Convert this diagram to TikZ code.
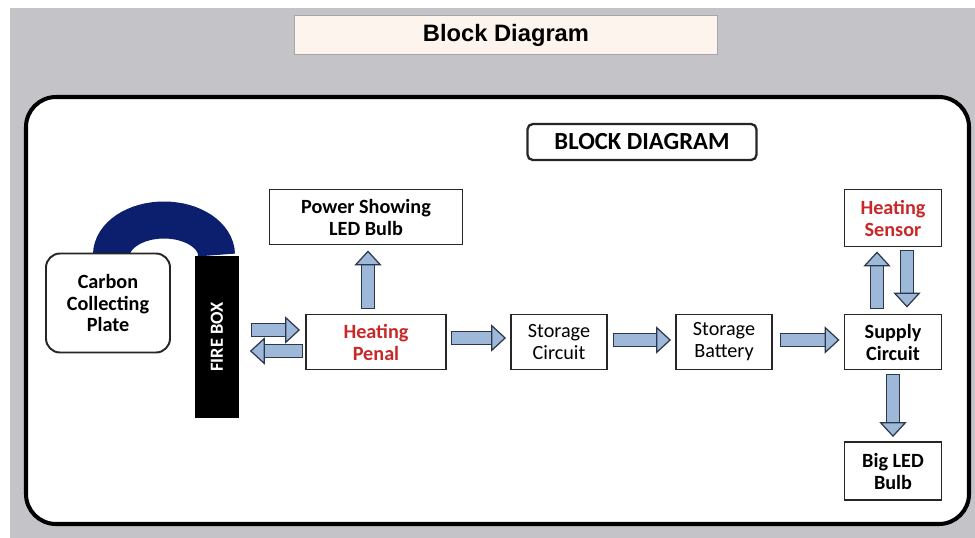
\documentclass[tikz,border=0pt]{standalone}
\usepackage{fontspec}
\setmainfont{Carlito}
\newfontfamily\headfont{Liberation Sans}
\usetikzlibrary{arrows.meta,calc}
\definecolor{bggray}{RGB}{196,196,200}
\definecolor{cream}{RGB}{253,245,237}
\definecolor{flowblue}{RGB}{157,184,217}
\definecolor{flowedge}{RGB}{45,55,75}
\definecolor{pipe}{RGB}{12,30,110}
\definecolor{heatred}{RGB}{200,40,40}
\begin{document}
\begin{tikzpicture}[x=0.02cm,y=-0.02cm,
  box/.style={draw=black!85,line width=1.1pt,fill=white,align=center,inner sep=0pt,
    font=\bfseries\fontsize{11.5}{12.5}\selectfont},
  plainbox/.style={box,font=\fontsize{11.5}{12.5}\selectfont},
  flow/.style={draw=flowblue,line width=7pt,
    -{Triangle[length=8.5pt,width=15.5pt,fill=flowblue,color=flowedge,line width=0.7pt]},
    preaction={draw=flowedge,line width=8.4pt,arrows=-,shorten >=7.5pt,shorten <=-0.7pt}}]
\useasboundingbox (0,0) rectangle (975,538);
% background and frame
\fill[white] (0,0) rectangle (975,538);
\fill[bggray] (10,8) rectangle (975,538);
\node[draw=gray!70,fill=cream,minimum width=8.46cm,minimum height=0.78cm,
  font=\headfont\bfseries\fontsize{13.5}{15}\selectfont] (title) at (506,35) {Block Diagram};
\draw[fill=white,line width=2.3pt,rounded corners=0.6cm] (26,97) rectangle (969,524);
\node[draw=black!85,line width=1.3pt,rounded corners=3pt,minimum width=4.58cm,minimum height=0.72cm,
  font=\bfseries\fontsize{14}{16}\selectfont] (bd) at (642,142) {BLOCK DIAGRAM};

% pipe between plate and fire box
\draw[pipe,line width=0.74cm] (111.5,255) arc[start angle=180,end angle=0,x radius=1.05cm,y radius=0.7cm];

% blocks
\node[box,rounded corners=0.28cm,minimum width=2.48cm,minimum height=1.98cm] (plate) at (108,303) {Carbon\\Collecting\\Plate};
\node[fill=black,minimum width=0.9cm,minimum height=3.26cm,inner sep=0pt] (fire) at (217,337) {};
\node[rotate=90,text=white,font=\bfseries\fontsize{10.5}{12}\selectfont] at (fire.center) {FIRE BOX};
\node[box,minimum width=3.86cm,minimum height=1.1cm] (power) at (366,217) {Power Showing\\LED Bulb};
\node[box,text=heatred,minimum width=2.8cm,minimum height=1.1cm] (heat) at (376,342) {Heating\\Penal};
\node[plainbox,minimum width=1.92cm,minimum height=1.1cm] (scirc) at (559,342) {Storage\\Circuit};
\node[plainbox,minimum width=1.92cm,minimum height=1.1cm] (sbatt) at (724,342) {Storage\\Battery};
\node[box,minimum width=1.94cm,minimum height=1.1cm] (supply) at (893,342) {Supply\\Circuit};
\node[box,text=heatred,minimum width=1.94cm,minimum height=1.14cm] (sensor) at (893,218) {Heating\\Sensor};
\node[box,minimum width=1.94cm,minimum height=1.16cm] (bigled) at (893,471) {Big LED\\Bulb};

% arrows
\draw[flow] ($(fire.east |- heat.west)+(12,-12)$) -- ($(heat.west)+(-5,-12)$);
\draw[flow] ($(heat.west)+(-3,9)$) -- ($(fire.east |- heat.west)+(10,9)$);
\draw[flow] ($(heat.north)+(-8,-6)$) -- ($(power.south -| heat.north)+(-8,5)$);
\draw[flow] ($(heat.east)+(5,-4)$) -- ($(scirc.west)+(-4,-4)$);
\draw[flow] ($(scirc.east)+(6,-2)$) -- ($(sbatt.west)+(-4,-2)$);
\draw[flow] ($(sbatt.east)+(8,-2)$) -- ($(supply.west)+(-4,-2)$);
\draw[flow] ($(supply.north)+(-16,-6)$) -- ($(sensor.south)+(-16,4)$);
\draw[flow] ($(sensor.south)+(14,4)$) -- ($(supply.north)+(14,-6)$);
\draw[flow] ($(supply.south)+(0,5)$) -- ($(bigled.north)+(0,-4)$);
\end{tikzpicture}
\end{document}
